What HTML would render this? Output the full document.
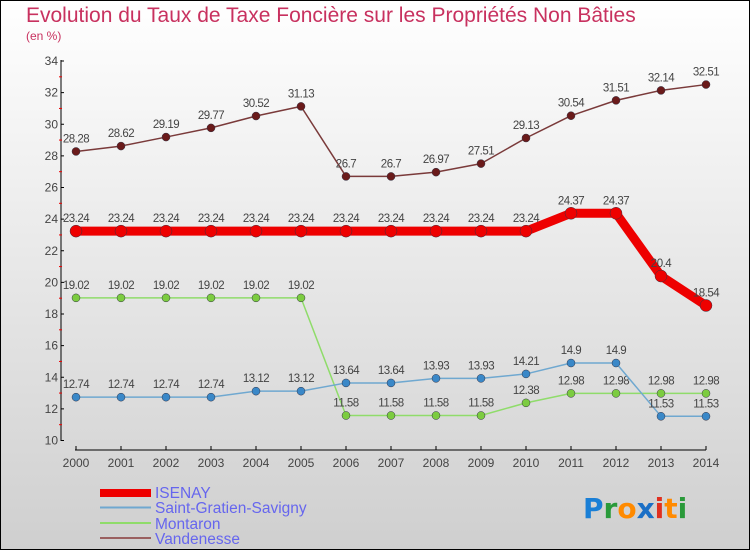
<!DOCTYPE html>
<html><head><meta charset="utf-8"><style>
body{margin:0}
#c{width:750px;height:550px;position:relative;font-family:"Liberation Sans",sans-serif;}
</style></head><body>
<div id="c">
<svg id="s" width="750" height="550" xmlns="http://www.w3.org/2000/svg">
<defs><linearGradient id="bg" x1="0" y1="0" x2="0" y2="1"><stop offset="0" stop-color="#ffffff"/><stop offset="1" stop-color="#cfcfcf"/></linearGradient></defs>
<rect x="0.5" y="0.5" width="749" height="549" fill="url(#bg)" stroke="#000"/>
<text x="26" y="22" font-size="21" fill="#c8315f">Evolution du Taux de Taxe Foncière sur les Propriétés Non Bâties</text>
<text x="26" y="40" font-size="12" fill="#c8315f">(en %)</text>
<g id="axes"></g><g id="series"></g>
<g>
<rect x="100" y="489" width="51" height="8" fill="#ee0000"/>
<line x1="100" y1="507.5" x2="151" y2="507.5" stroke="#6fa8d0" stroke-width="2"/>
<line x1="100" y1="523" x2="151" y2="523" stroke="#8fdc6a" stroke-width="2"/>
<line x1="100" y1="538" x2="151" y2="538" stroke="#9a6060" stroke-width="2"/>
<g font-size="15.5" fill="#6666ee">
<text x="155" y="498">ISENAY</text>
<text x="155" y="513">Saint-Gratien-Savigny</text>
<text x="155" y="529">Montaron</text>
<text x="155" y="544">Vandenesse</text>
</g></g>
<g font-size="28" font-family="'DejaVu Sans',sans-serif" font-weight="bold">
<text x="583" y="518" fill="#1a7fd6">P<tspan fill="#2a9a3a">r</tspan><tspan fill="#ff8a00">o</tspan><tspan fill="#1a6fc6">x</tspan><tspan fill="#e03020">i</tspan><tspan fill="#ff8a00">t</tspan><tspan fill="#2a9a3a">i</tspan></text>
</g>
</svg>
</div>
<script>
const years=[2000,2001,2002,2003,2004,2005,2006,2007,2008,2009,2010,2011,2012,2013,2014];
const isenay=[23.24,23.24,23.24,23.24,23.24,23.24,23.24,23.24,23.24,23.24,23.24,24.37,24.37,20.4,18.54];
const saintGratien=[12.74,12.74,12.74,12.74,13.12,13.12,13.64,13.64,13.93,13.93,14.21,14.9,14.9,11.53,11.53];
const montaron=[19.02,19.02,19.02,19.02,19.02,19.02,11.58,11.58,11.58,11.58,12.38,12.98,12.98,12.98,12.98];
const vandenesse=[28.28,28.62,29.19,29.77,30.52,31.13,26.7,26.7,26.97,27.51,29.13,30.54,31.51,32.14,32.51];
const yTicks=[10,12,14,16,18,20,22,24,26,28,30,32,34];
const NS="http://www.w3.org/2000/svg";
const X=i=>76+i*45;
const Y=v=>440.5-(v-10)*(379.5/24);
function mk(t,a,p){const e=document.createElementNS(NS,t);for(const k in a)e.setAttribute(k,a[k]);p.appendChild(e);return e;}
const ax=document.getElementById('axes');
let l=mk('line',{x1:61,y1:60,x2:61,y2:441,stroke:'#000'},ax);

l=mk('line',{x1:75,y1:450,x2:706,y2:450,stroke:'#000'},ax);

yTicks.forEach((v,i)=>{
 mk('line',{x1:61,y1:Y(v),x2:64,y2:Y(v),stroke:'#000'},ax);
 if(i<yTicks.length-1)mk('line',{x1:59,y1:Y(v+1),x2:62,y2:Y(v+1),stroke:'#e00'},ax);
 const t=mk('text',{x:58,y:Y(v)+4,'font-size':12,'text-anchor':'end',fill:'#444'},ax);t.textContent=v;
 
});
years.forEach((y,i)=>{
 mk('line',{x1:X(i),y1:446,x2:X(i),y2:450,stroke:'#000'},ax);
 const t=mk('text',{x:X(i),y:467,'font-size':12,'text-anchor':'middle',fill:'#444'},ax);t.textContent=y;
 
});
const sg=document.getElementById('series');
function series(vals,name,color,w,dot,r){
 const g=mk('g',{},sg);
 
 mk('polyline',{points:vals.map((v,i)=>X(i)+','+Y(v)).join(' '),fill:'none',stroke:color,'stroke-width':w,'stroke-linejoin':'round'},g);
 vals.forEach((v,i)=>{
  const c=mk('circle',{cx:X(i),cy:Y(v),r:r,fill:dot,stroke:'#334',"stroke-width":0.5},g);
  
  const t=mk('text',{x:X(i),y:Y(v)-9,'font-size':11.5,'text-anchor':'middle',fill:'#444','letter-spacing':'-0.5'},g);t.textContent=v;
  
 });
}
series(vandenesse,'vandenesse','#7a3a3a',1.5,'#6a1a1a',4);
series(montaron,'montaron','#8fdc6a',1.5,'#7ccc40',4);
series(saintGratien,'saint-gratien','#6fa8d0',1.5,'#3a88c8',4);
series(isenay,'isenay','#ee0000',9,'#ee0000',6);
</script>
</body></html>
